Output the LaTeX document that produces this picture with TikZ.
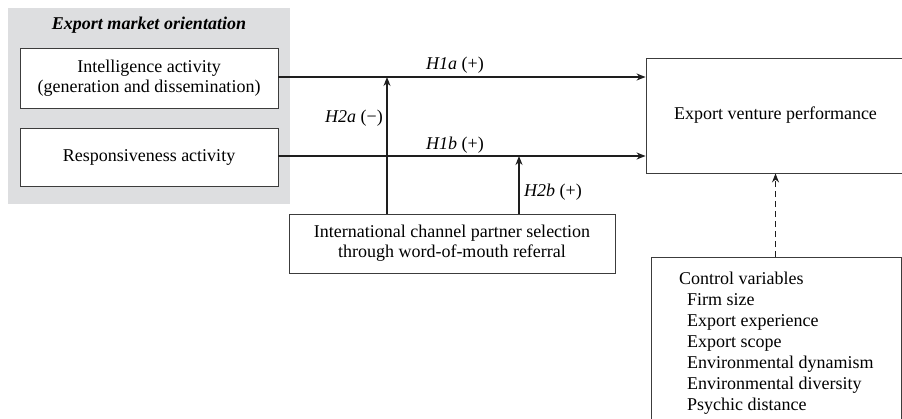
\documentclass[tikz,border=0pt]{standalone}
\usepackage{fontspec}
\setmainfont{Liberation Serif}
\usetikzlibrary{arrows.meta,positioning}
\definecolor{panelgray}{RGB}{221,222,224}
\definecolor{inkdark}{RGB}{30,30,30}
\definecolor{boxline}{RGB}{60,60,60}
\tikzset{
  box/.style={draw=boxline,line width=0.9pt,fill=white,align=center,inner sep=0pt},
  link/.style={draw=inkdark,line width=1.3pt,-{Stealth[length=9pt,width=7pt]}},
  ctrllink/.style={link,line width=1pt,dashed,dash pattern=on 6pt off 4pt},
  hyplabel/.style={font=\fontsize{18}{20}\selectfont,inner sep=1pt}
}

\begin{document}
\begin{tikzpicture}[x=1pt,y=-1pt,font=\fontsize{18}{20}\selectfont]
  \useasboundingbox (0,0) rectangle (902,418);
  \clip (0,0) rectangle (902,418);
  \fill[panelgray] (8,8) rectangle (290,204);
  \node[font=\fontsize{18}{20}\selectfont\bfseries\itshape] (emo) at (149,25) {Export market orientation};
  \node[box,minimum width=258pt,minimum height=60pt] (intel) at (149,78)
    {Intelligence activity\\(generation and dissemination)};
  \node[box,minimum width=258pt,minimum height=58pt] (resp) at (149,157) {Responsiveness activity};
  \node[box,minimum width=259pt,minimum height=115pt] (perf) at (775.5,115.5) {Export venture performance};
  \node[box,minimum width=326pt,minimum height=59pt] (chan) at (452,243.5)
    {International channel partner selection\\through word-of-mouth referral};
  \node[box,anchor=north west,align=left,font=\fontsize{18}{21}\selectfont,
        minimum width=250pt,inner xsep=12pt,inner ysep=15pt] (ctrl) at (651,257)
    {Control variables\\
     \hspace{8pt}Firm size\\
     \hspace{8pt}Export experience\\
     \hspace{8pt}Export scope\\
     \hspace{8pt}Environmental dynamism\\
     \hspace{8pt}Environmental diversity\\
     \hspace{8pt}Psychic distance};
  \coordinate (moda) at (387,77);
  \coordinate (modb) at (519,156);
  \draw[link] (intel.east |- moda) -- (moda -| perf.west);
  \draw[link] (resp.east |- modb) -- (modb -| perf.west);
  \draw[link] (moda |- chan.north) -- (moda);
  \draw[link] (modb |- chan.north) -- (modb);
  \draw[ctrllink] (ctrl.north -| perf.south) -- (perf.south);
  \node[hyplabel] (hoa) at (455,65) {\textit{H1a}~(+)};
  \node[hyplabel] (hob) at (455,145) {\textit{H1b}~(+)};
  \node[hyplabel,anchor=east] (hta) at (384,118) {\textit{H2a}~(−)};
  \node[hyplabel,anchor=west] (htb) at (523,192) {\textit{H2b}~(+)};
\end{tikzpicture}
\end{document}
